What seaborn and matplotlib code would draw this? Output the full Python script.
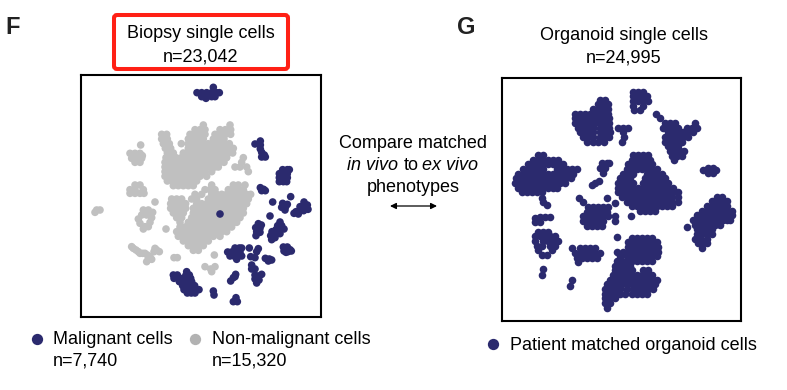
# tSNE panels F and G, points in picture units
import pandas as pd
import seaborn as sns
import matplotlib.pyplot as plt
from matplotlib.patches import FancyBboxPatch

NAVY = "#2b2a6e"
GREY = "#c0c0c0"

# each row is (y, [x values])
biopsy_grey_top = [
    (150, [370, 450]),
    (164, [345, 360, 375, 420, 436, 452]),
    (178, [245, 260, 330, 345, 360, 375, 405, 420, 436, 452]),
    (192, [245, 262, 325, 340, 355, 370, 400, 416, 432]),
    (206, [250, 268, 304, 325, 340, 355, 370, 385, 400, 416, 432, 448]),
    (220, [256, 272, 325, 340, 355, 370, 385, 400, 415, 430, 445, 460]),
    (234, [262, 280, 310, 325, 340, 355, 370, 385, 400, 415, 430, 445, 458]),
    (248, [258, 272, 288, 304, 320, 335, 350, 365, 380, 395, 410, 425, 440, 490]),
    (262, [255, 270, 285, 300, 315, 330, 345, 360, 375, 390, 405, 420, 432, 485]),
    (276, [255, 270, 285, 300, 315, 330, 345, 360, 375, 390, 405, 415, 465, 480, 500]),
    (290, [255, 270, 285, 300, 315, 330, 345, 360, 375, 395, 505]),
    (304, [255, 270, 285, 300, 315, 330, 345, 360, 380]),
    (318, [262, 277, 292, 307, 322, 337, 350]),
    (332, [280, 295, 310, 325, 340]),
]
biopsy_grey_bottom = [
    (330, [395, 460, 475, 495]),
    (344, [375, 390, 405, 445, 460, 475, 490]),
    (358, [345, 365, 395, 410, 425, 440, 455, 470, 485, 500, 512]),
    (372, [275, 290, 305, 335, 350, 385, 400, 415, 430, 445, 460, 475, 490, 505]),
    (386, [272, 287, 302, 317, 350, 365, 380, 395, 410, 425, 440, 455, 470, 485, 500]),
    (400, [272, 287, 302, 317, 340, 355, 370, 385, 400, 415, 430, 445, 460, 475, 490]),
    (414, [280, 295, 310, 340, 355, 370, 385, 400, 415, 430, 445, 460, 475, 490]),
    (428, [290, 305, 335, 350, 365, 380, 395, 410, 425, 440, 455, 470, 480]),
    (442, [300, 325, 340, 355, 370, 385, 400, 415, 430, 445, 460, 470]),
    (456, [300, 315, 330, 345, 360, 375, 390, 405, 420, 435, 445, 455]),
    (470, [290, 305, 320, 335, 350, 365, 380, 395, 410, 425, 440]),
    (484, [295, 310, 325, 340, 355, 370, 385, 400, 420]),
    (498, [310, 325, 340, 355, 370, 385]),
    (512, [325, 340, 355, 370]),
    (526, [340, 355]),
]
biopsy_grey_small = [
    (210, [182]),
    (235, [150, 165, 180]),
    (242, [187]),
    (250, [155, 170, 185]),
    (262, [165, 180]),
    (330, [165, 180]),
    (344, [150, 165, 190]),
    (355, [150, 165, 180, 192]),
    (381, [225]),
    (405, [50, 60, 190, 205]),
    (412, [45, 218]),
    (420, [185, 200]),
    (428, [215]),
    (432, [175]),
    (442, [210]),
    (445, [180]),
    (455, [195, 205]),
    (462, [190, 258]),
    (515, [155]),
    (520, [160, 225]),
    (525, [168, 230]),
    (530, [175, 222, 238]),
    (535, [180, 188, 195]),
    (540, [202, 403]),
    (545, [210]),
    (548, [282, 292]),
    (553, [205, 215]),
    (560, [200]),
    (575, [375, 405]),
    (582, [392]),
    (590, [395]),
]
biopsy_navy = [
    (37, [400]),
    (53, [351, 365, 380, 395, 410, 418]),
    (65, [365, 380, 395, 405]),
    (70, [378]),
    (198, [541]),
    (207, [525]),
    (210, [541]),
    (222, [541]),
    (232, [545]),
    (240, [553]),
    (246, [545, 556]),
    (284, [608, 622, 628]),
    (296, [598, 610, 622]),
    (308, [598, 610, 622]),
    (320, [598, 610, 620]),
    (338, [541]),
    (343, [551]),
    (347, [545, 556]),
    (365, [632]),
    (381, [578, 672]),
    (385, [608]),
    (388, [622]),
    (390, [682]),
    (395, [617, 660, 672]),
    (397, [605]),
    (403, [684]),
    (405, [615]),
    (407, [660, 671]),
    (410, [648]),
    (415, [642]),
    (417, [655, 420]),
    (423, [570]),
    (441, [600]),
    (446, [535]),
    (450, [544]),
    (452, [593, 605]),
    (458, [527]),
    (460, [540]),
    (462, [612]),
    (464, [588, 600]),
    (470, [530, 576]),
    (472, [540]),
    (476, [588, 600]),
    (482, [528, 572]),
    (488, [585]),
    (494, [575]),
    (516, [610, 622]),
    (519, [465, 478, 485, 508]),
    (521, [535]),
    (524, [630]),
    (528, [612, 634]),
    (530, [530, 624]),
    (531, [443, 455, 467, 480]),
    (532, [618]),
    (543, [450, 462, 475, 485]),
    (545, [512]),
    (548, [525]),
    (550, [556]),
    (552, [568]),
    (553, [470]),
    (555, [575]),
    (558, [565]),
    (570, [515]),
    (582, [515, 525]),
    (590, [320]),
    (598, [467, 545]),
    (600, [280, 292, 318, 328, 525]),
    (603, [537]),
    (605, [465]),
    (608, [460]),
    (610, [282, 295, 308, 320, 332]),
    (612, [525]),
    (615, [537]),
    (618, [452]),
    (620, [298, 310, 322, 335]),
    (624, [530]),
    (632, [308, 320, 332, 344]),
    (644, [312, 324, 336, 348, 357]),
    (648, [400]),
    (654, [322, 334, 345]),
    (660, [402]),
    (668, [468]),
    (680, [460, 472]),
]
organoid_top = [
    (50, [400, 415, 430]),
    (64, [400, 415, 430, 442]),
    (78, [400, 415, 430, 445]),
    (92, [400, 430]),
    (106, [403, 420]),
    (118, [468]),
    (128, [480]),
]
organoid_upper_left = [
    (75, [300, 315]),
    (88, [295, 310, 325]),
    (102, [280, 295, 310, 325]),
    (116, [225, 240, 255, 270, 285, 300, 315, 325]),
    (130, [225, 240, 255, 270, 285, 300, 315, 328]),
    (144, [225, 240, 255, 270, 285, 300, 315, 328]),
    (158, [235, 250, 265, 280, 300, 315, 328, 355, 370, 385]),
    (172, [240, 255, 270, 280, 300, 315, 330, 368]),
    (186, [250, 265, 280, 300, 315, 328, 372]),
    (200, [262, 278, 295, 312, 365]),
]
organoid_upper_right = [
    (145, [495, 510, 525, 585]),
    (158, [490, 505, 520, 535, 560, 575, 590]),
    (172, [505, 520, 535, 550, 565, 580]),
    (186, [495, 510, 525, 535, 550, 565]),
    (200, [495, 510, 520, 530, 545]),
    (214, [505, 520, 535]),
    (228, [510, 525, 540, 552]),
    (242, [515, 530, 545]),
    (256, [522]),
]
organoid_left = [
    (240, [115, 130]),
    (254, [100, 115, 130, 145, 160, 175]),
    (268, [85, 100, 115, 130, 145, 160, 175, 190]),
    (282, [70, 85, 100, 115, 130, 170, 185, 200, 215, 230]),
    (296, [55, 70, 85, 100, 115, 130, 145, 160, 175, 190, 205, 220]),
    (310, [48, 63, 78, 93, 108, 123, 138, 153, 168, 183, 198, 213]),
    (324, [45, 60, 75, 90, 105, 120, 135, 150, 165, 180, 195]),
    (338, [55, 70, 85, 100, 115, 130, 145, 160, 172]),
    (350, [65, 80, 95, 110, 125]),
    (368, [125]),
    (380, [130]),
    (390, [140]),
    (425, [120, 135, 150]),
    (430, [105]),
    (441, [105, 120]),
    (470, [115, 130, 145]),
    (484, [105, 120, 135, 150, 165]),
    (498, [105, 130, 145, 160, 175]),
    (512, [110, 125, 150, 165]),
    (526, [115, 155]),
    (540, [125, 140]),
    (582, [130]),
    (600, [127]),
]
organoid_center = [
    (265, [305, 320, 328]),
    (280, [300, 315]),
    (295, [310]),
    (318, [298]),
    (324, [285]),
    (329, [275]),
    (368, [238, 322]),
    (380, [250]),
    (385, [345]),
    (395, [265, 280, 295, 310, 325]),
    (410, [260, 275, 290, 305, 320]),
    (422, [393]),
    (424, [250, 265, 280, 295, 310, 325, 345]),
    (438, [250, 265, 280, 295, 310, 345]),
    (452, [260, 275, 290, 305]),
]
organoid_middle = [
    (240, [400, 415, 430, 445]),
    (254, [395, 410, 425, 437, 450]),
    (268, [385, 400, 415, 430, 440, 455]),
    (282, [380, 395, 410, 425, 440, 455, 470]),
    (296, [370, 385, 400, 440, 455, 470, 485]),
    (310, [360, 375, 390, 435, 450, 465, 480, 495]),
    (324, [355, 370, 385, 400, 430, 445, 460, 475, 490, 505]),
    (338, [355, 370, 385, 400, 415, 430, 445, 460, 475, 490, 505, 520]),
    (352, [355, 375, 390, 400, 415, 430, 445, 460, 475, 490, 505, 520, 535]),
    (366, [365, 380, 395, 410, 425, 440, 455, 470, 485, 500, 515, 535]),
    (380, [380, 395, 410, 425, 440, 455, 470, 485, 500, 515, 535]),
    (394, [395, 410, 425, 440, 455, 470, 485, 500, 515]),
    (408, [420, 435, 450, 465]),
]
organoid_right = [
    (280, [625, 640]),
    (285, [610, 648]),
    (294, [625, 640]),
    (365, [650, 665]),
    (379, [635, 650, 665, 680]),
    (393, [620, 635, 650, 665, 680]),
    (407, [605, 620, 635, 650, 665, 680, 695]),
    (421, [590, 605, 620, 635, 650, 665, 680, 695]),
    (435, [580, 595, 610, 625, 640, 655, 670, 680, 690]),
    (449, [585, 600, 615, 630, 645, 660]),
    (455, [562]),
    (463, [590, 605, 620, 635]),
    (477, [590, 605, 620, 635]),
    (491, [585, 600, 620]),
    (505, [595, 610, 620]),
    (518, [605]),
]
organoid_bottom = [
    (485, [350]),
    (488, [395, 410, 425, 440, 455]),
    (502, [385, 400, 415, 430, 445, 460, 470]),
    (516, [385, 400, 415, 430, 445, 460, 475]),
    (530, [350, 370, 385, 400, 415, 430, 445, 460, 475]),
    (544, [360, 380, 395, 410, 425, 440, 455, 470]),
    (558, [350, 365, 380, 395, 410, 425, 440, 455]),
    (572, [345, 360, 375, 390]),
    (586, [345, 360, 375, 395, 430, 445]),
    (600, [340, 355, 370, 385, 395, 410, 425, 440, 455]),
    (614, [330, 345, 360, 375, 385, 400, 415, 430, 445, 460, 470]),
    (628, [320, 335, 350, 365, 380, 395, 410, 420, 430, 445, 455, 465]),
    (642, [315, 330, 345, 360, 380, 400, 415, 430, 445, 460]),
    (656, [315, 330, 345, 360, 375, 395, 410, 425, 440]),
    (670, [315, 330, 345]),
    (684, [315, 330]),
    (698, [320]),
]
organoid_lower_left = [
    (520, [215, 240, 255, 270, 285]),
    (534, [225, 240, 255, 270, 285, 300]),
    (548, [230, 245, 260, 275, 290]),
    (562, [235]),
    (615, [215]),
    (632, [209]),
]


def rows_to_frame(rows, kind):
    points = [(x, y) for y, xs in rows for x in xs]
    df = pd.DataFrame(points, columns=["x", "y"])
    df["kind"] = kind
    return df


biopsy = pd.concat([
    rows_to_frame(biopsy_grey_top, "non"),
    rows_to_frame(biopsy_grey_bottom, "non"),
    rows_to_frame(biopsy_grey_small, "non"),
    rows_to_frame(biopsy_navy, "mal"),
])
organoid = pd.concat([
    rows_to_frame(r, "mal") for r in [organoid_top, organoid_upper_left, organoid_upper_right,
                                      organoid_left, organoid_center, organoid_middle,
                                      organoid_right, organoid_bottom, organoid_lower_left]
])

plt.rcParams["font.family"] = ["Liberation Sans", "DejaVu Sans"]
W, H = 787, 390
fig = plt.figure(figsize=(W / 100, H / 100), dpi=100)


def panel(left, top, right, bottom):
    return fig.add_axes([left / W, 1 - bottom / H, (right - left) / W, (bottom - top) / H])


ax_f = panel(81, 75, 321, 317)
sns.scatterplot(data=biopsy, x="x", y="y", hue="kind", palette={"non": GREY, "mal": NAVY},
                s=30, linewidth=0, legend=False, ax=ax_f)
ax_f.set_xlim(3, 723)
ax_f.set_ylim(726, 0)

ax_g = panel(502, 77.5, 741, 321)
sns.scatterplot(data=organoid, x="x", y="y", color=NAVY, s=30, linewidth=0, legend=False, ax=ax_g)
ax_g.set_xlim(6, 723)
ax_g.set_ylim(738, 8)

for ax in [ax_f, ax_g]:
    ax.set(xticks=[], yticks=[], xlabel="", ylabel="")
    for s in ax.spines.values():
        s.set_linewidth(1.5)

# overlay in pixel units for the labels
ov = fig.add_axes([0, 0, 1, 1], zorder=5)
ov.set_xlim(0, W)
ov.set_ylim(H, 0)
ov.axis("off")

FS = 13
ov.text(5, 27, "F", fontsize=17, fontweight="bold", color="#222222", va="center")
ov.text(457, 27, "G", fontsize=17, fontweight="bold", color="#222222", va="center")

ov.add_patch(FancyBboxPatch((114, 15), 174, 54, boxstyle="round,pad=0,rounding_size=3",
                            fc="none", ec="#ff2015", lw=2.9))
ov.text(201, 34, "Biopsy single cells", fontsize=FS, ha="center", va="center")
ov.text(201, 57, "n=23,042", fontsize=FS, ha="center", va="center")
ov.text(624, 35, "Organoid single cells", fontsize=FS, ha="center", va="center")
ov.text(624, 58, "n=24,995", fontsize=FS, ha="center", va="center")

ov.text(413, 143, "Compare matched", fontsize=FS, ha="center", va="center")
ov.text(347, 165, "in vivo", fontsize=FS, style="italic", va="center")
ov.text(404, 165, "to", fontsize=FS, va="center")
ov.text(422, 165, "ex vivo", fontsize=FS, style="italic", va="center")
ov.text(413, 187, "phenotypes", fontsize=FS, ha="center", va="center")
ov.annotate("", xy=(437, 206), xytext=(390, 206),
            arrowprops=dict(arrowstyle="<|-|>", color="black", lw=0.9, mutation_scale=9,
                            shrinkA=0, shrinkB=0))

ov.scatter([37], [339], s=66, color=NAVY, linewidth=0)
ov.scatter([195], [339], s=66, color="#b2b2b2", linewidth=0)
ov.scatter([493], [344], s=66, color=NAVY, linewidth=0)
ov.text(53, 340, "Malignant cells", fontsize=FS, va="center")
ov.text(53, 361, "n=7,740", fontsize=FS, va="center")
ov.text(212, 340, "Non-malignant cells", fontsize=FS, va="center")
ov.text(212, 361, "n=15,320", fontsize=FS, va="center")
ov.text(510, 345, "Patient matched organoid cells", fontsize=FS, va="center")

fig.savefig("out.png", dpi=100)
